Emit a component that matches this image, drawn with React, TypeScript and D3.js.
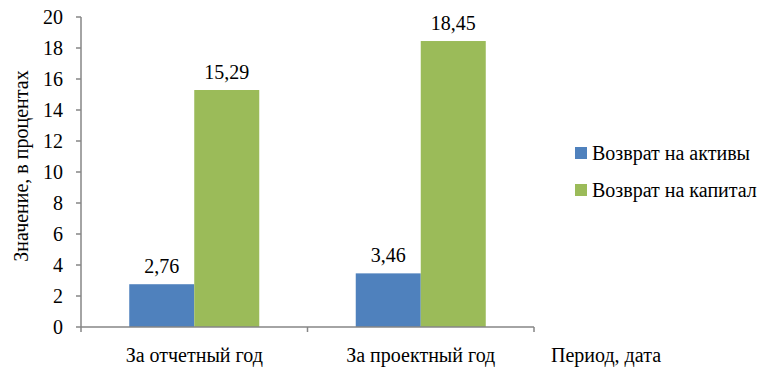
import React from "react";
import * as d3 from "d3";

const categories = ["За отчетный год", "За проектный год"];
const seriesNames = ["Возврат на активы", "Возврат на капитал"];
const assetsReturn = [2.76, 3.46];
const equityReturn = [15.29, 18.45];
const yTicks = [0, 2, 4, 6, 8, 10, 12, 14, 16, 18, 20];
const colors = ["#4F81BD", "#9BBB59"];

const left = 81;
const right = 534;
const top = 17;
const bottom = 327;
const axisColor = "#868686";
const serif = { fontFamily: `"Liberation Serif"` };

export default function App() {
  const x = d3.scaleBand<string>().domain(categories).range([left, right]);
  const y = d3.scaleLinear().domain([0, 20]).range([bottom, top]);
  const groupW = x.bandwidth() * 0.574;
  const inner = d3.scaleBand<string>().domain(seriesNames).range([0, groupW]);
  const series = [assetsReturn, equityReturn];
  const fmt = (v: number) => v.toFixed(2).replace(".", ",");

  return (
    <svg width={760} height={359}>
      {/* shift back by the page margin so coordinates are page pixels */}
      <g transform="translate(-8,-8)">
        {categories.map((c, ci) => {
          const gx = (x(c) as number) + (x.bandwidth() - groupW) / 2;
          return series.map((vals, si) => {
            const bx = gx + (inner(seriesNames[si]) as number);
            const v = vals[ci];
            return (
              <g key={`${ci}-${si}`}>
                <rect x={bx} y={y(v)} width={inner.bandwidth()} height={y(0) - y(v)} fill={colors[si]} />
                <text x={bx + inner.bandwidth() / 2} y={y(v) - 11} textAnchor="middle" fontSize={20} style={serif}>
                  {fmt(v)}
                </text>
              </g>
            );
          });
        })}
        {/* y axis */}
        <line x1={left} x2={left} y1={top} y2={bottom} stroke={axisColor} strokeWidth={1.5} />
        {yTicks.map((t) => (
          <g key={t}>
            <line x1={left - 5} x2={left} y1={y(t)} y2={y(t)} stroke={axisColor} strokeWidth={1.5} />
            <text x={left - 18} y={y(t) + 7} textAnchor="end" fontSize={20} style={serif}>
              {t}
            </text>
          </g>
        ))}
        {/* x axis */}
        <line x1={left} x2={right} y1={bottom} y2={bottom} stroke={axisColor} strokeWidth={1.5} />
        {[left, ...categories.map((c) => (x(c) as number) + x.bandwidth())].map((tx, i) => (
          <line key={i} x1={tx} x2={tx} y1={bottom} y2={bottom + 5} stroke={axisColor} strokeWidth={1.5} />
        ))}
        {categories.map((c) => (
          <text key={c} x={(x(c) as number) + x.bandwidth() / 2} y={362} textAnchor="middle" fontSize={20} style={serif}>
            {c}
          </text>
        ))}
        <text x={551} y={362} fontSize={20} style={serif}>
          Период, дата
        </text>
        <text transform="translate(28,166) rotate(-90)" textAnchor="middle" fontSize={20} style={serif}>
          Значение, в процентах
        </text>
        {/* legend */}
        {seriesNames.map((s, i) => (
          <g key={s} transform={`translate(575,${147 + i * 37})`}>
            <rect x={0} y={0} width={12} height={12} fill={colors[i]} />
            <text x={17} y={13} fontSize={20} style={serif}>
              {s}
            </text>
          </g>
        ))}
      </g>
    </svg>
  );
}
